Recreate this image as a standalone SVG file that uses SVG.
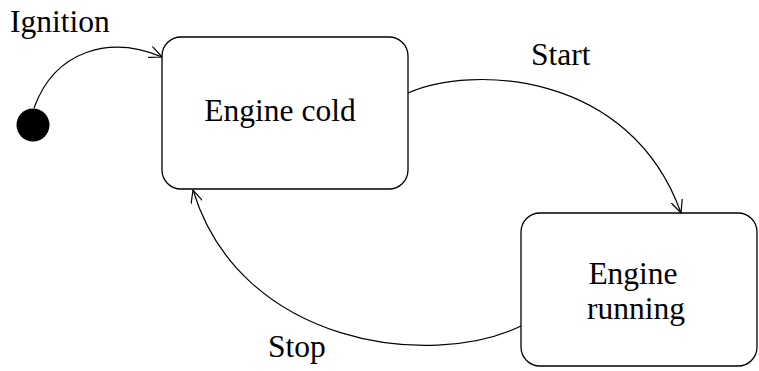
<svg xmlns="http://www.w3.org/2000/svg" width="759" height="371" viewBox="0 0 759 371">
  <style>
    .state { fill: #ffffff; stroke: #000000; stroke-width: 1.3; }
    .edge { fill: none; stroke: #000000; stroke-width: 1.2; }
    .label { font-family: "Liberation Serif", "Times New Roman", serif; font-size: 31.5px; fill: #000000; }
  </style>
  <defs>
    <marker id="open-arrow" viewBox="0 0 14 12" refX="13" refY="6" markerWidth="14" markerHeight="12" markerUnits="userSpaceOnUse" orient="auto">
      <path d="M0,0 L13,6 L0,12" fill="none" stroke="#000000" stroke-width="1.2"/>
    </marker>
  </defs>

  <g id="initial">
    <circle cx="33" cy="125" r="16.5" fill="#000000"/>
  </g>

  <g id="engine-cold">
    <rect class="state" x="162" y="37" width="246" height="152" rx="19" ry="19"/>
    <text class="label" x="280" y="121" text-anchor="middle">Engine cold</text>
  </g>

  <g id="engine-running">
    <rect class="state" x="521" y="213" width="236" height="153" rx="19" ry="19"/>
    <text class="label" x="633" y="284" text-anchor="middle">Engine</text>
    <text class="label" x="636" y="319" text-anchor="middle">running</text>
  </g>

  <g id="connectors">
    <path class="edge" d="M34,108 C55,50 110,35 162,57" marker-end="url(#open-arrow)"/>
    <path class="edge" d="M408,93 C470,65 630,70 681,213" marker-end="url(#open-arrow)"/>
    <path class="edge" d="M521,326 C430,370 240,345 193,190" marker-end="url(#open-arrow)"/>
    <text class="label" x="10" y="32">Ignition</text>
    <text class="label" x="531" y="65">Start</text>
    <text class="label" x="268" y="357">Stop</text>
  </g>
</svg>
